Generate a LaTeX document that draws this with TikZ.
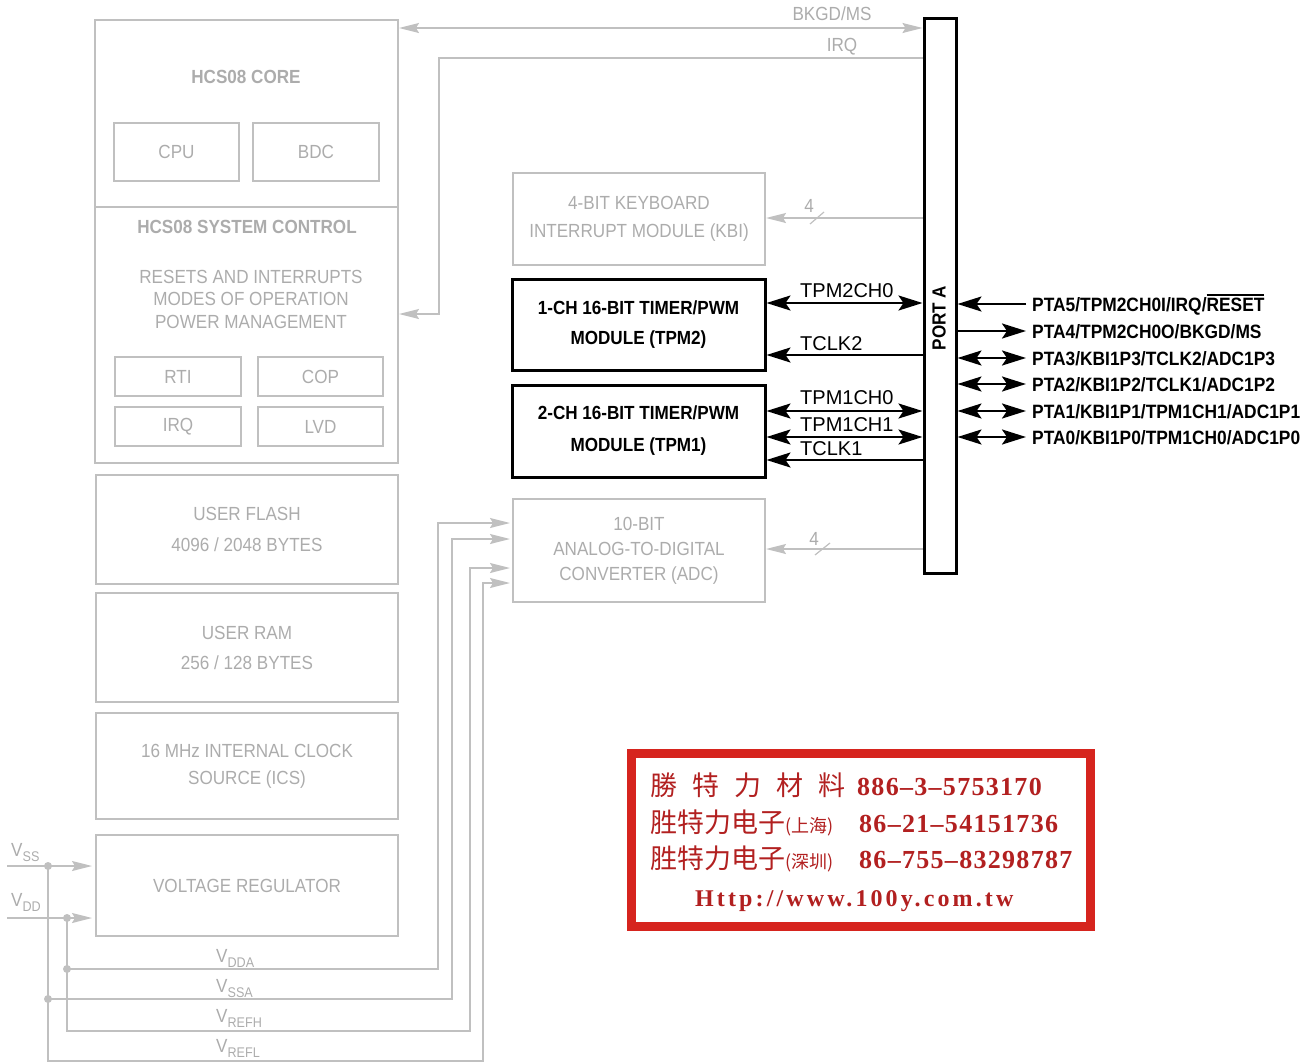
\documentclass[tikz,border=0pt]{standalone}
\usepackage{fontspec}
\setmainfont{Liberation Sans}[FakeStretch=0.9]
\newfontfamily\widesans{Liberation Sans}
\newfontfamily\cjk{Noto Sans CJK TC}
\newfontfamily\numserif{Liberation Serif}[LetterSpace=5]
\newfontfamily\urlserif{Liberation Serif}[LetterSpace=13]
\usetikzlibrary{arrows.meta}
\definecolor{lg}{RGB}{192,192,192}
\definecolor{lgt}{RGB}{172,172,172}
\definecolor{redbox}{RGB}{214,36,30}
\definecolor{redtxt}{RGB}{178,32,32}
\newcommand\myovl[1]{\vbox{\hrule height 1.6pt\kern 1.6pt\hbox{#1}}}
\newcommand\vsub[1]{V\raisebox{-5pt}{\fontsize{14}{14}\selectfont #1}}
\begin{document}
\begin{tikzpicture}[x=1pt,y=-1pt,
  gbox/.style={draw=lg, line width=2pt, text=lgt, align=center, inner sep=0pt, font=\fontsize{19}{28}\selectfont},
  gtxt/.style={text=lgt, inner sep=0pt, align=center, font=\fontsize{19}{23}\selectfont},
  gbold/.style={gtxt, font=\bfseries\fontsize{19}{23}\selectfont},
  bbox/.style={draw=black, line width=3pt, align=center, inner sep=0pt, font=\bfseries\fontsize{19}{30}\selectfont},
  gline/.style={draw=lg, line width=1.6pt},
  garr/.style={gline, -{Stealth[length=20pt,width=10pt,inset=3pt]}},
  gdarr/.style={gline, {Stealth[length=20pt,width=10pt,inset=3pt]}-{Stealth[length=20pt,width=10pt,inset=3pt]}},
  bline/.style={draw=black, line width=2.4pt},
  barr/.style={bline, -{Stealth[length=24pt,width=15pt,inset=5pt]}},
  bdarr/.style={bline, {Stealth[length=24pt,width=15pt,inset=5pt]}-{Stealth[length=24pt,width=15pt,inset=5pt]}},
  blab/.style={anchor=base west, inner sep=0pt, font=\widesans\fontsize{20}{20}\selectfont},
  pinlab/.style={anchor=base west, inner sep=0pt, font=\bfseries\fontsize{19.3}{19.3}\selectfont},
  vlab/.style={anchor=base west, inner sep=0pt, text=lgt, font=\fontsize{19}{19}\selectfont},
  jdot/.style={circle, fill=lg, inner sep=0pt, minimum size=8pt},
  redl/.style={anchor=base west, inner sep=0pt, text=redtxt}
]
\useasboundingbox (0,0) rectangle (1315,1063);

% ---------- left column ----------
\node[gbox, minimum width=303pt, minimum height=187pt] (core) at (246.5,113.5) {};
\node[gbox, minimum width=303pt, minimum height=256pt] (sysctl) at (246.5,335) {};
\node[gbold] (coret) at (246,77) {HCS08 CORE};
\node[gbox, minimum width=125pt, minimum height=58pt] (cpu) at (176.5,152) {CPU};
\node[gbox, minimum width=126pt, minimum height=58pt] (bdc) at (316,152) {BDC};
\node[gbold] (sct) at (247,227) {HCS08 SYSTEM CONTROL};
\node[gtxt, font=\fontsize{19}{22.5}\selectfont] (rst) at (251,299) {RESETS AND INTERRUPTS\\MODES OF OPERATION\\POWER MANAGEMENT};
\node[gbox, minimum width=126pt, minimum height=39pt] (rti) at (178,376.5) {RTI};
\node[gbox, minimum width=125pt, minimum height=39pt] (cop) at (320.5,376.5) {COP};
\node[gbox, minimum width=126pt, minimum height=39pt] (irqb) at (178,426.5) {IRQ};
\node[gbox, minimum width=125pt, minimum height=39pt] (lvd) at (320.5,426.5) {LVD};
\node[gbox, minimum width=302pt, minimum height=109pt, font=\fontsize{19}{31}\selectfont] (flash) at (247,529.5) {USER FLASH\\4096 / 2048 BYTES};
\node[gbox, minimum width=302pt, minimum height=109pt, font=\fontsize{19}{30}\selectfont] (ram) at (247,647.5) {USER RAM\\256 / 128 BYTES};
\node[gbox, minimum width=302pt, minimum height=106pt, font=\fontsize{19}{27}\selectfont] (ics) at (247,766) {16 MHz INTERNAL CLOCK\\SOURCE (ICS)};
\node[gbox, minimum width=302pt, minimum height=101pt] (vreg) at (247,885.5) {VOLTAGE REGULATOR};

% ---------- middle column ----------
\node[gbox, minimum width=252pt, minimum height=92pt, font=\fontsize{19}{28}\selectfont] (kbi) at (639,219) {4-BIT KEYBOARD\\INTERRUPT MODULE (KBI)};
\node[bbox, minimum width=253pt, minimum height=91pt] (tpm2) at (638.5,324.5) {1-CH 16-BIT TIMER/PWM\\MODULE (TPM2)};
\node[bbox, minimum width=253pt, minimum height=92pt, font=\bfseries\fontsize{19}{32}\selectfont] (tpm1) at (638.5,431) {2-CH 16-BIT TIMER/PWM\\MODULE (TPM1)};
\node[gbox, minimum width=252pt, minimum height=103pt, font=\fontsize{19}{25}\selectfont] (adc) at (639,550.5) {10-BIT\\ANALOG-TO-DIGITAL\\CONVERTER (ADC)};

% ---------- port A ----------
\node[draw=black, line width=3pt, minimum width=32pt, minimum height=555pt, inner sep=0pt] (port) at (940,295.5) {};
\node[rotate=90, inner sep=0pt, font=\bfseries\fontsize{19}{19}\selectfont] (portl) at (939,318) {PORT A};

% ---------- helper coordinates ----------
\coordinate (yBK) at (0,28);
\coordinate (irqA) at (439,58);
\coordinate (irqB) at (439,314);
\coordinate (yKBI) at (0,218);
\coordinate (yADC) at (0,549);
\coordinate (yT2a) at (0,303);
\coordinate (yT2b) at (0,355);
\coordinate (yT1a) at (0,411);
\coordinate (yT1b) at (0,437);
\coordinate (yT1c) at (0,460);

% ---------- gray buses ----------
\draw[gdarr] (port.west |- yBK) -- (core.east |- yBK);
\node[gtxt] (bkl) at (832,14) {BKGD/MS};
\draw[garr] (port.west |- irqA) -- (irqA) -- (irqB) -- (sysctl.east |- irqB);
\node[gtxt] (irql) at (842,47) {IRQ};
\draw[garr] (port.west |- yKBI) -- (kbi.east |- yKBI);
\coordinate (kbs1) at (810,224);
\coordinate (kbs2) at (824,212);
\draw[gline, line width=1.2pt] (kbs1) -- (kbs2);
\node[gtxt] (kb4) at (809,206) {4};
\draw[garr] (port.west |- yADC) -- (adc.east |- yADC);
\coordinate (ads1) at (815,555);
\coordinate (ads2) at (830,543);
\draw[gline, line width=1.2pt] (ads1) -- (ads2);
\node[gtxt] (ad4) at (814,539) {4};

% ---------- black timer connections ----------
\draw[bdarr] (tpm2.east |- yT2a) -- (port.west |- yT2a);
\node[blab] (l1) at (800,297) {TPM2CH0};
\draw[barr] (port.west |- yT2b) -- (tpm2.east |- yT2b);
\node[blab] (l2) at (800,350) {TCLK2};
\draw[bdarr] (tpm1.east |- yT1a) -- (port.west |- yT1a);
\node[blab] (l3) at (800,404) {TPM1CH0};
\draw[bdarr] (tpm1.east |- yT1b) -- (port.west |- yT1b);
\node[blab] (l4) at (800,431) {TPM1CH1};
\draw[barr] (port.west |- yT1c) -- (tpm1.east |- yT1c);
\node[blab] (l5) at (800,455) {TCLK1};

% ---------- pins ----------
\node[pinlab] (p5) at (1032,311) {PTA5/TPM2CH0I/IRQ/\myovl{RESET}};
\node[pinlab] (p4) at (1032,338) {PTA4/TPM2CH0O/BKGD/MS};
\node[pinlab] (p3) at (1032,365) {PTA3/KBI1P3/TCLK2/ADC1P3};
\node[pinlab] (p2) at (1032,391) {PTA2/KBI1P2/TCLK1/ADC1P2};
\node[pinlab] (p1) at (1032,418) {PTA1/KBI1P1/TPM1CH1/ADC1P1};
\node[pinlab] (p0) at (1032,444) {PTA0/KBI1P0/TPM1CH0/ADC1P0};
\coordinate (e5) at (1026,304);
\coordinate (e4) at (1026,331);
\coordinate (e3) at (1026,358);
\coordinate (e2) at (1026,384);
\coordinate (e1) at (1026,411);
\coordinate (e0) at (1026,437);
\draw[barr] (e5) -- (port.east |- e5);
\draw[barr] (port.east |- e4) -- (e4);
\draw[bdarr] (port.east |- e3) -- (e3);
\draw[bdarr] (port.east |- e2) -- (e2);
\draw[bdarr] (port.east |- e1) -- (e1);
\draw[bdarr] (port.east |- e0) -- (e0);

% ---------- power ----------
\coordinate (vssin) at (7,866);
\coordinate (vddin) at (7,918);
\node[jdot] (dss) at (48,866) {};
\node[jdot] (ddd) at (67,918) {};
\node[jdot] (dda) at (67,969) {};
\node[jdot] (dsa) at (48,999) {};
\draw[garr, shorten >=3pt] (vssin) -- (vreg.west |- vssin);
\draw[garr, shorten >=3pt] (vddin) -- (vreg.west |- vddin);
\node[vlab] (vssl) at (11,856) {\vsub{SS}};
\node[vlab] (vddl) at (11,906) {\vsub{DD}};
\coordinate (a1) at (438,969);
\coordinate (a1t) at (438,523);
\coordinate (a2) at (452,999);
\coordinate (a2t) at (452,539);
\coordinate (a3b) at (67,1031);
\coordinate (a3) at (470,1031);
\coordinate (a3t) at (470,568);
\coordinate (a4b) at (48,1061);
\coordinate (a4) at (483,1061);
\coordinate (a4t) at (483,583);
\draw[garr, shorten >=2pt] (dda.center) -- (a1) -- (a1t) -- (adc.west |- a1t);
\draw[garr, shorten >=2pt] (dsa.center) -- (a2) -- (a2t) -- (adc.west |- a2t);
\draw[garr, shorten >=2pt] (ddd.center) -- (a3b) -- (a3) -- (a3t) -- (adc.west |- a3t);
\draw[garr, shorten >=2pt] (dss.center) -- (a4b) -- (a4) -- (a4t) -- (adc.west |- a4t);
\node[vlab] (vdal) at (216,962) {\vsub{DDA}};
\node[vlab] (vsal) at (216,992) {\vsub{SSA}};
\node[vlab] (vrhl) at (216,1022) {\vsub{REFH}};
\node[vlab] (vrll) at (216,1052) {\vsub{REFL}};

% ---------- red contact box ----------
\node[draw=redbox, line width=9pt, fill=white, minimum width=459pt, minimum height=173pt, inner sep=0pt] (ad) at (861,840) {};
\node[redl, font=\cjk\fontsize{27}{27}\selectfont] (r1a) at (650,795) {勝\hspace{15pt}特\hspace{15pt}力\hspace{15pt}材\hspace{15pt}料};
\node[redl, font=\numserif\bfseries\fontsize{26}{26}\selectfont] (r1b) at (857,795) {886–3–5753170};
\node[redl, font=\cjk\fontsize{27}{27}\selectfont] (r2a) at (650,832) {胜特力电子{\fontsize{18}{18}\selectfont(上海)}};
\node[redl, font=\numserif\bfseries\fontsize{26}{26}\selectfont] (r2b) at (859,832) {86–21–54151736};
\node[redl, font=\cjk\fontsize{27}{27}\selectfont] (r3a) at (650,868) {胜特力电子{\fontsize{18}{18}\selectfont(深圳)}};
\node[redl, font=\numserif\bfseries\fontsize{26}{26}\selectfont] (r3b) at (859,868) {86–755–83298787};
\node[redl, font=\urlserif\bfseries\fontsize{24}{24}\selectfont] (r4) at (695,906) {Http://www.100y.com.tw};
\end{tikzpicture}
\end{document}
